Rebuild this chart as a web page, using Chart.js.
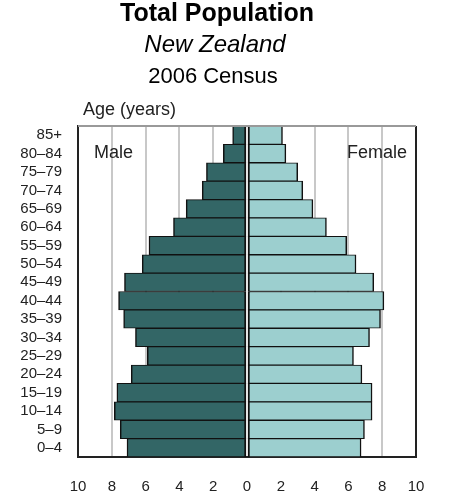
<!DOCTYPE html>
<html>
<head>
<meta charset="utf-8">
<title>Total Population - New Zealand 2006 Census</title>
<script src="https://cdn.jsdelivr.net/npm/chart.js@4/dist/chart.umd.min.js"></script>
<style>
  html, body { margin: 0; padding: 0; background: #fff; }
  #wrap { width: 456px; height: 500px; }
</style>
</head>
<body>
<div id="wrap"><canvas id="myChart" width="456" height="500"></canvas></div>
<script>
// age groups, top of the pyramid first
var ageGroups = ["85+", "80–84", "75–79", "70–74", "65–69", "60–64", "55–59", "50–54", "45–49",
                 "40–44", "35–39", "30–34", "25–29", "20–24", "15–19", "10–14", "5–9", "0–4"];
// percent of total population
var malePct = [0.85, 1.4, 2.4, 2.65, 3.6, 4.35, 5.8, 6.2, 7.25, 7.6, 7.3, 6.6, 5.9, 6.85, 7.7, 7.85, 7.5, 7.1];
var femalePct = [2.1, 2.3, 3.0, 3.3, 3.9, 4.7, 5.9, 6.45, 7.5, 8.1, 7.9, 7.25, 6.3, 6.8, 7.4, 7.4, 6.95, 6.75];
var xTicks = [-10, -8, -6, -4, -2, 0, 2, 4, 6, 8, 10];

var FONT = "'Liberation Sans', Arial, sans-serif";

// titles and side labels drawn on the canvas
var textPlugin = {
    id: "texts",
    afterDraw: function(chart) {
        var c = chart.ctx;
        var area = chart.chartArea;
        c.save();
        c.fillStyle = "#000";
        c.textBaseline = "alphabetic";
        c.textAlign = "center";
        c.font = "bold 25px " + FONT;
        c.fillText("Total Population", 217, 21);
        c.font = "italic 24px " + FONT;
        c.fillText("New Zealand", 215, 52);
        c.font = "22px " + FONT;
        c.fillText("2006 Census", 213, 83);

        c.fillStyle = "#222";
        c.textAlign = "left";
        c.font = "18px " + FONT;
        c.fillText("Age (years)", 83, 115);
        c.fillText("Male", area.left + 16, 158);
        c.textAlign = "right";
        c.fillText("Female", area.right - 9, 158);

        // top edge of the frame
        c.strokeStyle = "#999";
        c.lineWidth = 2;
        c.beginPath();
        c.moveTo(area.left, area.top);
        c.lineTo(area.right, area.top);
        c.stroke();
        c.restore();
    }
};

window.onload = function() {
    var ctx = document.getElementById("myChart").getContext("2d");
    var myChart = new Chart(ctx, {
        type: "bar",
        data: {
            labels: ageGroups,
            datasets: [
                {
                    label: "Male",
                    data: malePct.map(function(v) { return -v; }),
                    backgroundColor: "#336666",
                    borderColor: "#111",
                    borderWidth: { top: 1, bottom: 1, left: 1.5, right: 2 },
                    borderSkipped: false,
                    barPercentage: 1,
                    categoryPercentage: 1,
                },
                {
                    label: "Female",
                    data: femalePct,
                    backgroundColor: "#9ccfcf",
                    borderColor: "#111",
                    borderWidth: { top: 1, bottom: 1, left: 2, right: 1.5 },
                    borderSkipped: false,
                    barPercentage: 1,
                    categoryPercentage: 1,
                },
            ],
        },
        options: {
            indexAxis: "y",
            responsive: false,
            animation: false,
            layout: { padding: { top: 126, left: 0, right: 40, bottom: 0 } },
            plugins: {
                legend: { display: false },
                tooltip: { enabled: false },
            },
            scales: {
                x: {
                    stacked: true,
                    min: -10,
                    max: 10,
                    afterBuildTicks: function(scale) {
                        scale.ticks = xTicks.map(function(v) { return { value: v }; });
                    },
                    afterFit: function(scale) { scale.height = 43; },
                    grid: {
                        drawTicks: false,
                        lineWidth: 2,
                        color: function(ctx) {
                            var v = ctx.tick ? ctx.tick.value : null;
                            if (v === 0) return "rgba(0,0,0,0)";
                            if (v === -10 || v === 10) return "#222";
                            return "#c8c8c8";
                        },
                    },
                    border: { display: true, color: "#222", width: 2 },
                    ticks: {
                        padding: 21,
                        color: "#222",
                        font: { family: FONT, size: 15 },
                        callback: function(v) { return Math.abs(v); },
                    },
                },
                y: {
                    stacked: true,
                    afterFit: function(scale) { scale.width = 78; },
                    grid: { display: false, drawTicks: false },
                    border: { display: true, color: "#222", width: 2 },
                    ticks: {
                        autoSkip: false,
                        padding: 16,
                        color: "#222",
                        font: { family: FONT, size: 15 },
                    },
                },
            },
        },
        plugins: [textPlugin],
    });
};
</script>
</body>
</html>
